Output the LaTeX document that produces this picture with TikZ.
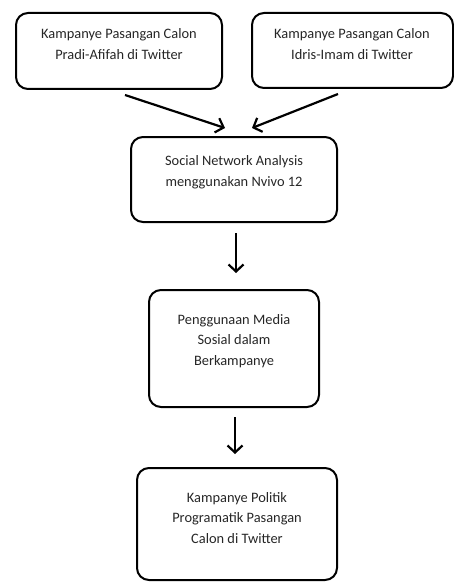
\documentclass[tikz,border=0pt]{standalone}
\usepackage{fontspec}
\setmainfont{Carlito}
\usetikzlibrary{arrows.meta}
\begin{document}
\begin{tikzpicture}[x=1pt,y=-1pt,
  box/.style={draw, line width=2pt, rounded corners=12pt, inner sep=0pt},
  lbl/.style={align=center, font=\fontsize{14.4}{20.5}\selectfont, text=black!85, inner sep=0pt},
  arr/.style={line width=2.2pt, -{Straight Barb[length=7pt,width=15pt,line width=2.2pt]}}]
\useasboundingbox (0,0) rectangle (454,583);
% boxes
\node[box, minimum width=206pt, minimum height=76pt] (b1) at (119,51) {};
\node[box, minimum width=201pt, minimum height=75pt] (b2) at (352.5,50.5) {};
\node[box, minimum width=206pt, minimum height=85pt] (b3) at (234,179.5) {};
\node[box, minimum width=170pt, minimum height=117pt] (b4) at (234,348.5) {};
\node[box, minimum width=200pt, minimum height=112pt] (b5) at (237,524) {};
% texts
\node[lbl] (t1) at (119,44) {Kampanye Pasangan Calon\\Pradi-Afifah di Twitter};
\node[lbl] (t2) at (352,44) {Kampanye Pasangan Calon\\Idris-Imam di Twitter};
\node[lbl] (t3) at (234,172) {Social Network Analysis\\menggunakan Nvivo 12};
\node[lbl] (t4) at (234,341) {Penggunaan Media\\Sosial dalam\\Berkampanye};
\node[lbl] (t5) at (237,518) {Kampanye Politik\\Programatik Pasangan\\Calon di Twitter};
% arrow ends
\coordinate (a1s) at (125,95);
\coordinate (a1e) at (225,128);
\coordinate (a2s) at (338,94);
\coordinate (a2e) at (252,128);
\coordinate (a3s) at (236,233);
\coordinate (a3e) at (236,273);
\coordinate (a4s) at (235,417);
\coordinate (a4e) at (235,454);
\draw[arr] (a1s) -- (a1e);
\draw[arr] (a2s) -- (a2e);
\draw[arr] (a3s) -- (a3e);
\draw[arr] (a4s) -- (a4e);
\end{tikzpicture}
\end{document}
